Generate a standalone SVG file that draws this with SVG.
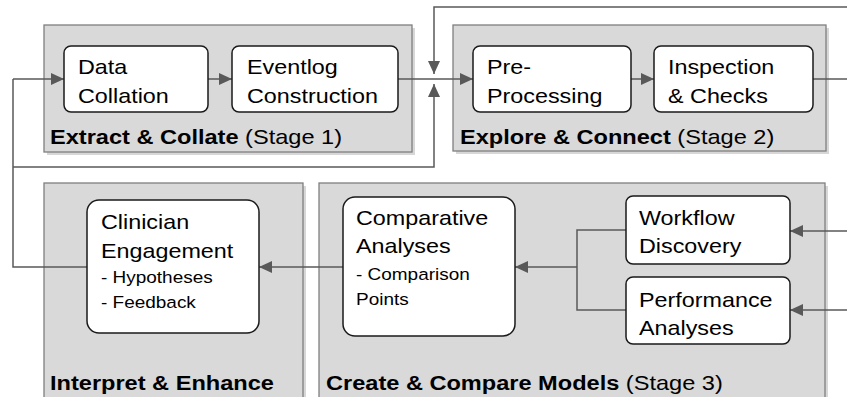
<svg xmlns="http://www.w3.org/2000/svg" width="847" height="397" viewBox="0 0 847 397">
<style>
.stage{fill:#d9d9d9;stroke:#7f7f7f;stroke-width:1.3}
.shadow{fill:#bdbdbd;opacity:0.6}
.node{fill:#ffffff;stroke:#1a1a1a;stroke-width:1.5}
.t{font-family:"Liberation Sans",Arial,sans-serif;font-size:20.3px;fill:#000}
.s{font-family:"Liberation Sans",Arial,sans-serif;font-size:16.5px;fill:#000}
.lb{font-family:"Liberation Sans",Arial,sans-serif;font-size:20.5px;fill:#000}
.b{font-weight:bold}
.c{fill:none;stroke:#595959;stroke-width:1.5}
</style>
<defs>
<marker id="ah" viewBox="0 0 13 12" refX="13" refY="6" markerWidth="13" markerHeight="12" markerUnits="userSpaceOnUse" orient="auto">
<path d="M0,0 L13,6 L0,12 Z" fill="#595959"/>
</marker>
</defs>
<rect width="847" height="397" fill="#ffffff"/>

<g id="stage1">
<rect class="shadow" x="47" y="28" width="368" height="127"/>
<rect class="stage" x="44" y="25" width="368" height="127"/>
<text class="lb" transform="matrix(1.15,0,0,1,50,144)"><tspan class="b">Extract &amp; Collate</tspan> (Stage 1)</text>
</g>
<g id="stage2">
<rect class="shadow" x="456" y="28" width="373" height="126"/>
<rect class="stage" x="453" y="25" width="373" height="126"/>
<text class="lb" transform="matrix(1.15,0,0,1,460,144)"><tspan class="b">Explore &amp; Connect</tspan> (Stage 2)</text>
</g>
<g id="stage4">
<rect class="shadow" x="47" y="186" width="259" height="230"/>
<rect class="stage" x="44" y="183" width="259" height="230"/>
<text class="lb" transform="matrix(1.15,0,0,1,50,390)"><tspan class="b">Interpret &amp; Enhance</tspan></text>
</g>
<g id="stage3">
<rect class="shadow" x="322" y="186" width="506" height="230"/>
<rect class="stage" x="319" y="183" width="506" height="230"/>
<text class="lb" transform="matrix(1.15,0,0,1,326,390)"><tspan class="b">Create &amp; Compare Models</tspan> (Stage 3)</text>
</g>

<g id="connectors">
<line class="c" x1="13" y1="79" x2="64" y2="79" marker-end="url(#ah)"/>
<line class="c" x1="208" y1="79" x2="232" y2="79" marker-end="url(#ah)"/>
<line class="c" x1="398" y1="79" x2="473" y2="79" marker-end="url(#ah)"/>
<polyline class="c" points="847,7 434,7 434,74" marker-end="url(#ah)"/>
<polyline class="c" points="13,167 434,167 434,84" marker-end="url(#ah)"/>
<line class="c" x1="631" y1="79" x2="654" y2="79" marker-end="url(#ah)"/>
<line class="c" x1="813" y1="79" x2="847" y2="79"/>
<polyline class="c" points="87,267 13,267 13,79"/>
<line class="c" x1="343" y1="267" x2="259" y2="267" marker-end="url(#ah)"/>
<polyline class="c" points="626,230 577,230 577,310 626,310"/>
<line class="c" x1="577" y1="267" x2="515" y2="267" marker-end="url(#ah)"/>
<line class="c" x1="847" y1="231" x2="790" y2="231" marker-end="url(#ah)"/>
<line class="c" x1="847" y1="310" x2="790" y2="310" marker-end="url(#ah)"/>
</g>

<g id="data-collation">
<rect class="node" x="64" y="46" width="144" height="66" rx="7"/>
<text class="t" transform="matrix(1.15,0,0,1,78,74)">Data</text>
<text class="t" transform="matrix(1.15,0,0,1,78,103)">Collation</text>
</g>
<g id="eventlog-construction">
<rect class="node" x="232" y="46" width="166" height="66" rx="7"/>
<text class="t" transform="matrix(1.15,0,0,1,247,74)">Eventlog</text>
<text class="t" transform="matrix(1.15,0,0,1,247,103)">Construction</text>
</g>
<g id="pre-processing">
<rect class="node" x="473" y="46" width="158" height="66" rx="7"/>
<text class="t" transform="matrix(1.15,0,0,1,487,74)">Pre-</text>
<text class="t" transform="matrix(1.15,0,0,1,487,103)">Processing</text>
</g>
<g id="inspection-checks">
<rect class="node" x="654" y="46" width="159" height="66" rx="7"/>
<text class="t" transform="matrix(1.15,0,0,1,668,74)">Inspection</text>
<text class="t" transform="matrix(1.15,0,0,1,668,103)">&amp; Checks</text>
</g>
<g id="clinician-engagement">
<rect class="node" x="87" y="200" width="172" height="133" rx="12"/>
<text class="t" transform="matrix(1.15,0,0,1,101,229)">Clinician</text>
<text class="t" transform="matrix(1.15,0,0,1,101,258)">Engagement</text>
<text class="s" transform="matrix(1.15,0,0,1,101,283)">- Hypotheses</text>
<text class="s" transform="matrix(1.15,0,0,1,101,308)">- Feedback</text>
</g>
<g id="comparative-analyses">
<rect class="node" x="343" y="197" width="172" height="139" rx="12"/>
<text class="t" transform="matrix(1.15,0,0,1,356,225)">Comparative</text>
<text class="t" transform="matrix(1.15,0,0,1,356,253)">Analyses</text>
<text class="s" transform="matrix(1.15,0,0,1,356,280)">- Comparison</text>
<text class="s" transform="matrix(1.15,0,0,1,356,305)">Points</text>
</g>
<g id="workflow-discovery">
<rect class="node" x="626" y="196" width="164" height="68" rx="7"/>
<text class="t" transform="matrix(1.15,0,0,1,639,225)">Workflow</text>
<text class="t" transform="matrix(1.15,0,0,1,639,253)">Discovery</text>
</g>
<g id="performance-analyses">
<rect class="node" x="626" y="277" width="164" height="67" rx="7"/>
<text class="t" transform="matrix(1.15,0,0,1,639,307)">Performance</text>
<text class="t" transform="matrix(1.15,0,0,1,639,335)">Analyses</text>
</g>
</svg>
